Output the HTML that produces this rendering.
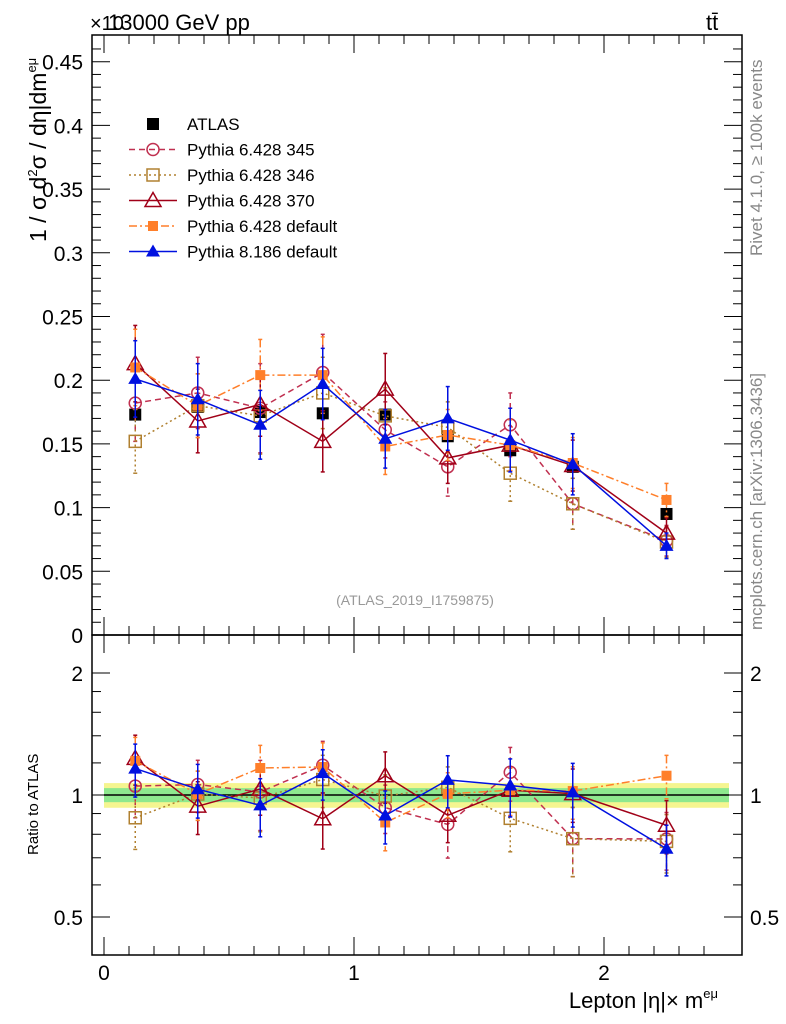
<!DOCTYPE html>
<html><head><meta charset="utf-8"><style>
body{margin:0;background:#fff;}
svg{display:block;font-family:"Liberation Sans",Arial,sans-serif;}
</style></head><body>
<svg id="c" width="786" height="1024" viewBox="0 0 786 1024">
<text x="108" y="30" font-size="22">13000 GeV pp</text>
<text x="90" y="30" font-size="20">×10</text>
<text x="706" y="30" font-size="22">tt̄</text>
<text transform="translate(762,256) rotate(-90)" font-size="17" fill="#888">Rivet 4.1.0, ≥ 100k events</text>
<text transform="translate(762,630) rotate(-90)" font-size="17" fill="#888">mcplots.cern.ch [arXiv:1306.3436]</text>
<text x="415" y="605" font-size="14" fill="#999" text-anchor="middle">(ATLAS_2019_I1759875)</text>
<text transform="translate(46,242) rotate(-90)" font-size="23">1 / σ  d<tspan font-size="13" dy="-9">2</tspan><tspan dy="9">σ / dη|dm</tspan><tspan font-size="13" dy="-10">eμ</tspan></text>
<text transform="translate(38,855) rotate(-90)" font-size="15">Ratio to ATLAS</text>
<text x="718" y="1008" font-size="22" text-anchor="end">Lepton |η|× m<tspan font-size="13" dy="-10">eμ</tspan></text>
<g id="g"></g>
</svg>
<script>
const cats=[0.125,0.375,0.625,0.875,1.125,1.375,1.625,1.875,2.25];
const atlas=[0.173,0.179,0.175,0.174,0.173,0.156,0.145,0.132,0.095];
const atlasErr=[0.006,0.006,0.006,0.006,0.006,0.006,0.006,0.006,0.005];
const p345=[0.182,0.190,0.178,0.206,0.161,0.132,0.165,0.103,0.074];
const e345=[0.03,0.028,0.035,0.03,0.022,0.023,0.025,0.02,0.012];
const p346=[0.152,0.180,0.172,0.190,0.172,0.163,0.127,0.103,0.073];
const e346=[0.025,0.025,0.03,0.028,0.022,0.02,0.022,0.02,0.012];
const p370=[0.213,0.168,0.181,0.152,0.193,0.139,0.149,0.133,0.080];
const e370=[0.03,0.025,0.025,0.024,0.028,0.02,0.02,0.02,0.012];
const pdef=[0.210,0.180,0.204,0.204,0.148,0.157,0.149,0.135,0.106];
const edef=[0.03,0.025,0.028,0.03,0.022,0.02,0.02,0.02,0.013];
const p8=[0.201,0.185,0.165,0.197,0.154,0.170,0.153,0.134,0.070];
const e8=[0.03,0.028,0.027,0.028,0.023,0.025,0.025,0.024,0.01];
const yTicks=[0,0.05,0.1,0.15,0.2,0.25,0.3,0.35,0.4,0.45];
const xTicks=[0,1,2];
const rTicks=[0.5,1,2];
const NS='http://www.w3.org/2000/svg';
const g=document.getElementById('g');
const L=92,R=742,T=35,MB=635,RB=955;
const X=v=>104+v*250;
const Y=v=>635-v*1274;
const RY=v=>795-Math.log2(v)*122;
function el(t,a,p){const e=document.createElementNS(NS,t);for(const k in a)e.setAttribute(k,a[k]);(p||g).appendChild(e);return e;}
let b1=el('rect',{x:X(0),y:RY(1.07),width:X(2.5)-X(0),height:RY(0.93)-RY(1.07),fill:'#f5f590'});


let b2=el('rect',{x:X(0),y:RY(1.04),width:X(2.5)-X(0),height:RY(0.96)-RY(1.04),fill:'#8ee88e'});


let l1=el('line',{x1:X(0),x2:X(2.5),y1:RY(1),y2:RY(1),stroke:'#000','stroke-width':1.5});


for(const [t,b,n] of [[T,MB,'main-frame'],[MB,RB,'ratio-frame']]){
 const f=el('rect',{x:L,y:t,width:R-L,height:b-t,fill:'none',stroke:'#000','stroke-width':1.5});
 
 
}
for(let v=0;v<=0.47;v+=0.01){const y=Y(v);if(y<T)break;const maj=Math.abs(v/0.05-Math.round(v/0.05))<1e-6;
 el('line',{x1:L,x2:L+(maj?18:9),y1:y,y2:y,stroke:'#000'});el('line',{x1:R,x2:R-(maj?18:9),y1:y,y2:y,stroke:'#000'});}
yTicks.forEach(v=>{const t=el('text',{x:83,y:Y(v)+8,'font-size':21,'text-anchor':'end'});t.textContent=String(v);
 
 });
[0.5,0.6,0.7,0.8,0.9,1,1.2,1.4,1.6,1.8,2].forEach(v=>{const y=RY(v);const maj=rTicks.includes(v);
 el('line',{x1:L,x2:L+(maj?18:9),y1:y,y2:y,stroke:'#000'});el('line',{x1:R,x2:R-(maj?18:9),y1:y,y2:y,stroke:'#000'});});
rTicks.forEach(v=>{for(const [x,a] of [[83,'end'],[750,'start']]){const t=el('text',{x:x,y:RY(v)+8,'font-size':21,'text-anchor':a});t.textContent=String(v);
 
 }});
for(let v=0;v<=2.5;v+=0.1){const x=X(v);const maj=Math.abs(v-Math.round(v))<1e-6;
 for(const [t,b] of [[T,MB],[MB,RB]]){el('line',{x1:x,x2:x,y1:b,y2:b-(maj?18:9),stroke:'#000'});el('line',{x1:x,x2:x,y1:t,y2:t+(maj?18:9),stroke:'#000'});}}
xTicks.forEach(v=>{const t=el('text',{x:X(v),y:980,'font-size':21,'text-anchor':'middle'});t.textContent=String(v);
 
 });
function marker(type,x,y,c,p){
 const s=6;
 if(type==='sqf')el('rect',{x:x-s,y:y-s,width:2*s,height:2*s,fill:c},p);
 if(type==='sqs')el('rect',{x:x-5,y:y-5,width:10,height:10,fill:c},p);
 if(type==='sqo')el('rect',{x:x-s,y:y-s,width:2*s,height:2*s,fill:'none',stroke:c,'stroke-width':1.5},p);
 if(type==='co')el('circle',{cx:x,cy:y,r:s,fill:'none',stroke:c,'stroke-width':1.5},p);
 if(type==='to')el('polygon',{points:`${x},${y-8} ${x-8},${y+6} ${x+8},${y+6}`,fill:'none',stroke:c,'stroke-width':1.5},p);
 if(type==='tf')el('polygon',{points:`${x},${y-7} ${x-7},${y+5} ${x+7},${y+5}`,fill:c},p);
}
const series=[
 {n:'pythia-6428-345',v:p345,e:e345,c:'#c03050',d:'6,4',m:'co'},
 {n:'pythia-6428-346',v:p346,e:e346,c:'#b08030',d:'2,3',m:'sqo'},
 {n:'pythia-6428-370',v:p370,e:e370,c:'#a00018',d:'',m:'to'},
 {n:'pythia-6428-default',v:pdef,e:edef,c:'#ff7f2a',d:'8,3,2,3',m:'sqs'},
 {n:'pythia-8186-default',v:p8,e:e8,c:'#0010e0',d:'',m:'tf'}];
const ag=el('g',{});


cats.forEach((x,i)=>{el('line',{x1:X(x),x2:X(x),y1:Y(atlas[i]+atlasErr[i]),y2:Y(atlas[i]-atlasErr[i]),stroke:'#000'},ag);marker('sqf',X(x),Y(atlas[i]),'#000',ag);});
series.forEach(s=>{
 for(const panel of ['main','ratio']){
  const sg=el('g',{});
  
  
  const f=panel==='main'?(i,v)=>Y(v):(i,v)=>RY(v/atlas[i]);
  el('polyline',{points:cats.map((x,i)=>X(x)+','+f(i,s.v[i])).join(' '),fill:'none',stroke:s.c,'stroke-width':1.5,'stroke-dasharray':s.d},sg);
  cats.forEach((x,i)=>{const y1=f(i,s.v[i]+s.e[i]),y2=f(i,s.v[i]-s.e[i]);
   el('line',{x1:X(x),x2:X(x),y1:y1,y2:y2,stroke:s.c,'stroke-width':1.5,'stroke-dasharray':s.d},sg);
   el('line',{x1:X(x)-2,x2:X(x)+2,y1:y1,y2:y1,stroke:s.c,'stroke-width':1.5},sg);
   el('line',{x1:X(x)-2,x2:X(x)+2,y1:y2,y2:y2,stroke:s.c,'stroke-width':1.5},sg);
   marker(s.m,X(x),f(i,s.v[i]),s.c,sg);});
 }
});
const lg=el('g',{});


const labels=['ATLAS','Pythia 6.428 345','Pythia 6.428 346','Pythia 6.428 370','Pythia 6.428 default','Pythia 8.186 default'];
labels.forEach((t,i)=>{const y=124+i*25.5;
 const eg=el('g',{},lg);
 
 
 if(i===0)marker('sqf',153,y,'#000',eg);else{const s=series[i-1];
  el('line',{x1:129,x2:177,y1:y,y2:y,stroke:s.c,'stroke-width':1.5,'stroke-dasharray':s.d},eg);marker(s.m,153,y,s.c,eg);}
 const tx=el('text',{x:187,y:y+6,'font-size':17},eg);tx.textContent=t;});
</script>
</body></html>
